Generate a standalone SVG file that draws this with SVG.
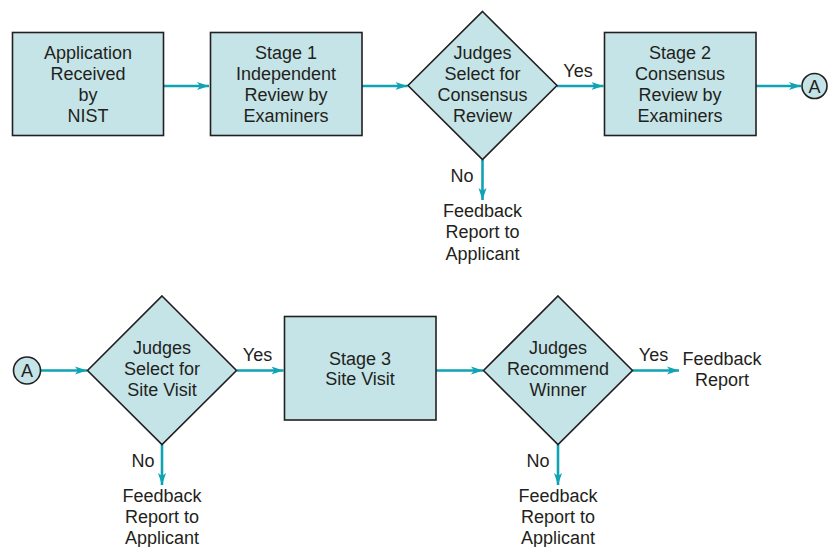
<svg xmlns="http://www.w3.org/2000/svg" width="831" height="547" viewBox="0 0 831 547">
<defs>
<style>
.box{fill:#c5e4e7;stroke:#231f20;stroke-width:1.6}
.t{font-family:"Liberation Sans",Arial,sans-serif;font-size:18px;fill:#231f20;text-anchor:middle}
.c{stroke:#0fa3b4;stroke-width:2.6;fill:none;marker-end:url(#ah)}
</style>
<marker id="ah" markerUnits="userSpaceOnUse" markerWidth="14" markerHeight="12" refX="12" refY="5" orient="auto" viewBox="0 0 14 10">
<path d="M0,1 L12,5 L0,9 L3,5 Z" fill="#0fa3b4"/>
</marker>
</defs>
<rect width="831" height="547" fill="#ffffff"/>
<g id="connectors">
<path class="c" d="M163.5,86 H209"/>
<path class="c" d="M362,86 H407.5"/>
<path class="c" d="M557,86 H603.5"/>
<path class="c" d="M756,86 H801"/>
<path class="c" d="M482.5,159.5 V200"/>
<path class="c" d="M41,370.5 H87"/>
<path class="c" d="M237,370.5 H283.5"/>
<path class="c" d="M436,370.5 H483"/>
<path class="c" d="M632.5,370.5 H679"/>
<path class="c" d="M162,444.5 V485"/>
<path class="c" d="M558,444.5 V485"/>
</g>
<g id="application">
<rect class="box" x="12.5" y="32.5" width="151" height="103"/>
<text class="t" x="88" y="58.5">Application</text>
<text class="t" x="88" y="79.5">Received</text>
<text class="t" x="88" y="101">by</text>
<text class="t" x="88" y="122">NIST</text>
</g>
<g id="stage1">
<rect class="box" x="210.5" y="32.5" width="151.5" height="103"/>
<text class="t" x="286" y="58.5">Stage 1</text>
<text class="t" x="286" y="79.5">Independent</text>
<text class="t" x="286" y="101">Review by</text>
<text class="t" x="286" y="122">Examiners</text>
</g>
<g id="judges1">
<polygon class="box" points="482.5,11.5 557,85.5 482.5,159.5 408,85.5"/>
<text class="t" x="482.5" y="58.5">Judges</text>
<text class="t" x="482.5" y="79.5">Select for</text>
<text class="t" x="482.5" y="101">Consensus</text>
<text class="t" x="482.5" y="122">Review</text>
</g>
<g id="yes1"><text class="t" x="578" y="77">Yes</text></g>
<g id="no1"><text class="t" x="462" y="182">No</text></g>
<g id="feedback1">
<text class="t" x="482.5" y="216.5">Feedback</text>
<text class="t" x="482.5" y="238">Report to</text>
<text class="t" x="482.5" y="259.5">Applicant</text>
</g>
<g id="stage2">
<rect class="box" x="604.5" y="32.5" width="151.5" height="103"/>
<text class="t" x="680" y="58.5">Stage 2</text>
<text class="t" x="680" y="79.5">Consensus</text>
<text class="t" x="680" y="101">Review by</text>
<text class="t" x="680" y="122">Examiners</text>
</g>
<g id="connectorA1">
<circle class="box" cx="814.5" cy="86" r="12.5"/>
<text class="t" x="814.5" y="92.5">A</text>
</g>
<g id="connectorA2">
<circle class="box" cx="27" cy="370.5" r="13.5"/>
<text class="t" x="27" y="377">A</text>
</g>
<g id="judges2">
<polygon class="box" points="162,296 236.5,370.5 162,444.5 87.5,370.5"/>
<text class="t" x="162" y="353.5">Judges</text>
<text class="t" x="162" y="375">Select for</text>
<text class="t" x="162" y="396">Site Visit</text>
</g>
<g id="yes2"><text class="t" x="257.5" y="361">Yes</text></g>
<g id="no2"><text class="t" x="143" y="466.5">No</text></g>
<g id="feedback2">
<text class="t" x="162" y="501.5">Feedback</text>
<text class="t" x="162" y="523">Report to</text>
<text class="t" x="162" y="544">Applicant</text>
</g>
<g id="stage3">
<rect class="box" x="284.5" y="316.5" width="151.5" height="103.5"/>
<text class="t" x="360" y="364.5">Stage 3</text>
<text class="t" x="360" y="385">Site Visit</text>
</g>
<g id="judges3">
<polygon class="box" points="558,296 632.5,370.5 558,444.5 483.5,370.5"/>
<text class="t" x="558" y="353.5">Judges</text>
<text class="t" x="558" y="375">Recommend</text>
<text class="t" x="558" y="396">Winner</text>
</g>
<g id="yes3"><text class="t" x="653.5" y="361">Yes</text></g>
<g id="feedbackReport">
<text class="t" x="722" y="365">Feedback</text>
<text class="t" x="722" y="386">Report</text>
</g>
<g id="no3"><text class="t" x="538" y="466.5">No</text></g>
<g id="feedback3">
<text class="t" x="558" y="501.5">Feedback</text>
<text class="t" x="558" y="523">Report to</text>
<text class="t" x="558" y="544">Applicant</text>
</g>
</svg>
